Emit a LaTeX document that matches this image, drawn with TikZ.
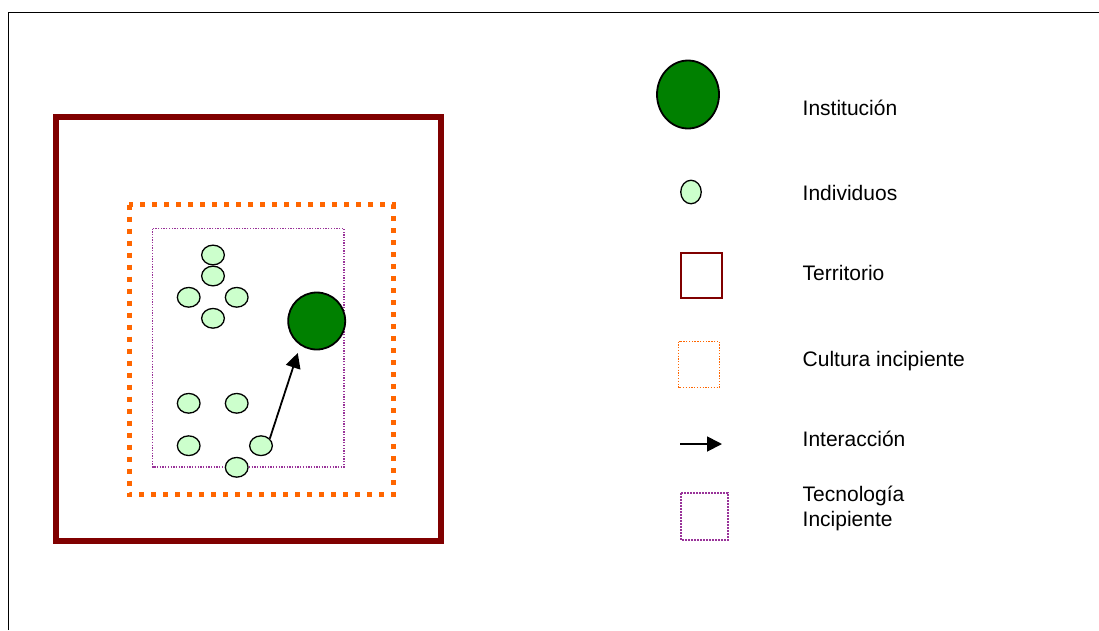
\documentclass[tikz,border=0pt]{standalone}
\usepackage{fontspec}
\setmainfont{Liberation Sans}
\usetikzlibrary{shapes.geometric,arrows.meta}
\definecolor{territorio}{HTML}{800000}
\definecolor{cultura}{HTML}{FF6600}
\definecolor{tecnologia}{HTML}{993399}
\definecolor{indiv}{HTML}{CCFFCC}
\definecolor{inst}{HTML}{008000}
\tikzset{
	individuo/.style={ellipse, draw=black, line width=1.3pt, fill=indiv, minimum width=22.7pt, minimum height=19.7pt, inner sep=0pt},
	institucion/.style={ellipse, draw=black, line width=1.8pt, fill=inst, inner sep=0pt},
	etiqueta/.style={anchor=base west, inner sep=0pt, font=\fontsize{21}{25}\selectfont, align=left},
	interaccion/.style={-{Triangle[length=15pt,width=15pt]}, line width=1.8pt}
}

\begin{document}
\begin{tikzpicture}[x=1pt, y=-1pt]
			%%%%% START %%%%%
			\useasboundingbox (0, 0) rectangle (1099, 630);
			
			\draw[line width=1.8pt] (8.5, 630) -- (8.5, 12.5) -- (1099, 12.5);
			
			% territorio, cultura, tecnologia
			\draw[line width=5.5pt, color=territorio] (56, 117) rectangle (441, 541);
			\draw[line width=5pt, color=cultura, dash pattern=on 5pt off 7pt] (129, 204.5) rectangle (393, 494.5);
			\draw[line width=1.3pt, color=tecnologia, dash pattern=on 1.3pt off 1.4pt] (152.5, 228.5) rectangle (344, 467);
			
			% individuos
			\node[individuo] (i1) at (213, 255) {};
			\node[individuo] (i2) at (213, 276) {};
			\node[individuo] (i3) at (188.7, 297.3) {};
			\node[individuo] (i4) at (236.7, 297.3) {};
			\node[individuo] (i5) at (213, 318.3) {};
			\node[individuo] (i6) at (188.7, 403.3) {};
			\node[individuo] (i7) at (236.7, 403.3) {};
			\node[individuo] (i8) at (188.7, 445.7) {};
			\node[individuo] (i9) at (261, 445.7) {};
			\node[individuo] (i10) at (236.7, 467.3) {};
			
			\node[institucion, minimum width=57pt, minimum height=57pt] (inst) at (316.7, 321) {};
			\draw[interaccion, shorten >=8pt] (i9.39) -- (inst.236);
			
			% leyenda
			\node[institucion, minimum width=62pt, minimum height=68pt] (leyInst) at (688, 94.5) {};
			\node[etiqueta] (txtInst) at (802.5, 115.5) {Institución};
			
			\node[individuo, minimum width=20.5pt, minimum height=23.5pt] (leyIndiv) at (691, 192) {};
			\node[etiqueta] (txtIndiv) at (802.5, 200.5) {Individuos};
			
			\draw[line width=1.8pt, color=territorio] (681, 253) rectangle (722, 298);
			\node[etiqueta] (txtTerr) at (802.5, 280.5) {Territorio};
			
			\draw[line width=1.3pt, color=cultura, dash pattern=on 1.3pt off 1.5pt] (678.5, 341.5) rectangle (719.5, 387.5);
			\node[etiqueta] (txtCult) at (802.5, 366) {Cultura incipiente};
			
			\coordinate (flechaA) at (680, 444);
			\coordinate (flechaB) at (722, 444);
			\draw[interaccion] (flechaA) -- (flechaB);
			\node[etiqueta] (txtInter) at (802.5, 446) {Interacción};
			
			\draw[line width=1.8pt, color=tecnologia, dash pattern=on 1.6pt off 1.4pt] (681, 493) rectangle (728, 540);
			\node[etiqueta] (txtTec) at (802.5, 526.7) {Tecnología\\Incipiente};
			%%%%% END %%%%%
\end{tikzpicture}
\end{document}
